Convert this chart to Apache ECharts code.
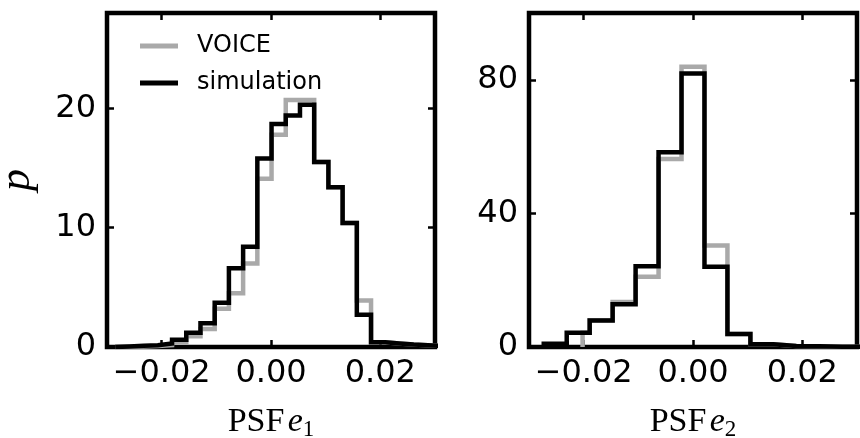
<!DOCTYPE html>
<html>
<head>
<meta charset="utf-8">
<script src="https://cdn.jsdelivr.net/npm/echarts@6/dist/echarts.min.js"></script>
<style>
html,body{margin:0;padding:0;background:#fff;}
#chart{width:860px;height:438px;}
</style>
</head>
<body>
<div id="chart"></div>
<script>
// ---- data ----
const e1Edges = [-0.0285,-0.0259,-0.0233,-0.0207,-0.0181,-0.0155,-0.0129,-0.0103,-0.0077,-0.0051,-0.0025,0.0001,0.0027,0.0053,0.0079,0.0105,0.0131,0.0157,0.0183,0.0209,0.0235,0.0261,0.0287,0.0313];
const e1Simulation = [0.05,0.1,0.15,0.3,0.6,1.2,2.0,3.7,6.6,8.4,15.8,18.7,19.4,20.3,15.5,13.4,10.4,2.7,0.4,0.3,0.2,0.15,0.1];
const e1Voice = [0.02,0.05,0.08,0.15,0.4,0.9,1.5,3.2,4.5,7.0,14.1,17.8,20.7,20.7,15.5,13.4,10.4,3.9,0.4,0.3,0.2,0.15,0.1];

const e2Edges = [-0.0273,-0.0231,-0.0189,-0.0147,-0.0105,-0.0063,-0.0021,0.0021,0.0063,0.0105,0.0147,0.0189,0.0231,0.0273,0.0315];
const e2Simulation = [1.0,4.3,7.9,12.8,24.2,58.3,81.9,24.0,3.9,0.8,0.3,0.2,0.1,0.1];
const e2VoiceEdges = [-0.0202,-0.0189,-0.0147,-0.0105,-0.0063,-0.0021,0.0021,0.0063,0.0105,0.0147,0.0189,0.0231,0.0273,0.0315];
const e2Voice = [4.3,8.0,13.5,21.0,56.3,83.9,30.4,3.9,0.8,0.3,0.2,0.1,0.1];

const xTicks = [-0.02, 0, 0.02];
const y1Ticks = [0, 10, 20];
const y2Ticks = [0, 40, 80];
const seriesNames = ['VOICE', 'simulation'];

// ---- helpers ----
function stepPoints(edges, vals) {
  const pts = [[edges[0], 0]];
  for (let i = 0; i < vals.length; i++) {
    pts.push([edges[i], vals[i]]);
    pts.push([edges[i + 1], vals[i]]);
  }
  pts.push([edges[edges.length - 1], 0]);
  return pts;
}
const fmtX = v => (v < 0 ? '\u2212' : '') + Math.abs(v).toFixed(2);
const tickFont = {fontFamily: 'DejaVu Sans', fontSize: 32, color: '#000'};
const tickStyle = {show: true, inside: true, length: 7, lineStyle: {color: '#000', width: 2.5}};
const noLine = {show: false, onZero: false};

function xAxes(gi, name) {
  return [
    {
      type: 'value', gridIndex: gi, position: 'bottom', min: -0.03, max: 0.03,
      axisLine: noLine, splitLine: {show: false},
      axisTick: Object.assign({customValues: xTicks}, tickStyle),
      axisLabel: Object.assign({customValues: xTicks, formatter: fmtX, margin: 11}, tickFont),
      name: name, nameLocation: 'middle', nameGap: 56,
      nameTextStyle: {
        rich: {
          r: {fontFamily: 'Liberation Serif', fontSize: 34, color: '#000'},
          i: {fontFamily: 'Liberation Serif', fontStyle: 'italic', fontSize: 34, color: '#000'},
          s: {fontFamily: 'Liberation Serif', fontSize: 23, color: '#000', padding: [15, 0, 0, 0]}
        }
      }
    },
    {
      type: 'value', gridIndex: gi, position: 'top', min: -0.03, max: 0.03,
      axisLine: noLine, splitLine: {show: false},
      axisTick: Object.assign({customValues: xTicks}, tickStyle),
      axisLabel: {show: false}
    }
  ];
}
function yAxes(gi, max, ticks, name) {
  const left = {
    type: 'value', gridIndex: gi, position: 'left', min: 0, max: max,
    axisLine: noLine, splitLine: {show: false},
    axisTick: Object.assign({customValues: ticks}, tickStyle),
    axisLabel: Object.assign({customValues: ticks, margin: 11}, tickFont)
  };
  if (name) {
    left.name = name;
    left.nameLocation = 'middle';
    left.nameGap = 68;
    left.nameRotate = 90;
    left.nameTextStyle = {fontFamily: 'Liberation Serif', fontStyle: 'italic', fontSize: 44, color: '#000'};
  }
  return [left, {
    type: 'value', gridIndex: gi, position: 'right', min: 0, max: max,
    axisLine: noLine, splitLine: {show: false},
    axisTick: Object.assign({customValues: ticks}, tickStyle),
    axisLabel: {show: false}
  }];
}
const gridStyle = {show: true, borderColor: '#000', borderWidth: 4.5, backgroundColor: 'transparent', containLabel: false, outerBoundsMode: 'none'};
const GRAY = '#a9a9a9';

function line(name, xi, yi, data, color, z) {
  return {
    name: name, type: 'line', xAxisIndex: xi, yAxisIndex: yi, data: data,
    symbol: 'none', silent: true, animation: false, z: z,
    lineStyle: {color: color, width: 4.5, join: 'miter'},
    itemStyle: {color: color}
  };
}

const option = {
  backgroundColor: '#fff',
  animation: false,
  grid: [
    Object.assign({left: 107, top: 13, width: 328, height: 334}, gridStyle),
    Object.assign({left: 529, top: 13, width: 328, height: 334}, gridStyle)
  ],
  xAxis: xAxes(0, '{r|PSF} {i|e}{s|1}').concat(xAxes(1, '{r|PSF} {i|e}{s|2}')),
  yAxis: yAxes(0, 28, y1Ticks, 'p').concat(yAxes(1, 100, y2Ticks, null)),
  legend: {
    orient: 'vertical', left: 135, top: 29,
    icon: 'rect', itemWidth: 38, itemHeight: 5, itemGap: 13,
    data: seriesNames,
    textStyle: {fontFamily: 'DejaVu Sans', fontSize: 24, lineHeight: 24, color: '#000', padding: [0, 0, 0, 14]},
    selectedMode: false
  },
  series: [
    line(seriesNames[0], 0, 0, stepPoints(e1Edges, e1Voice), GRAY, 2),
    line(seriesNames[1], 0, 0, stepPoints(e1Edges, e1Simulation), '#000', 3),
    line(seriesNames[0], 2, 2, stepPoints(e2VoiceEdges, e2Voice), GRAY, 2),
    line(seriesNames[1], 2, 2, stepPoints(e2Edges, e2Simulation), '#000', 3)
  ]
};
const chart = echarts.init(document.getElementById('chart'), null, {renderer: 'canvas'});
chart.setOption(option);
</script>
</body>
</html>
